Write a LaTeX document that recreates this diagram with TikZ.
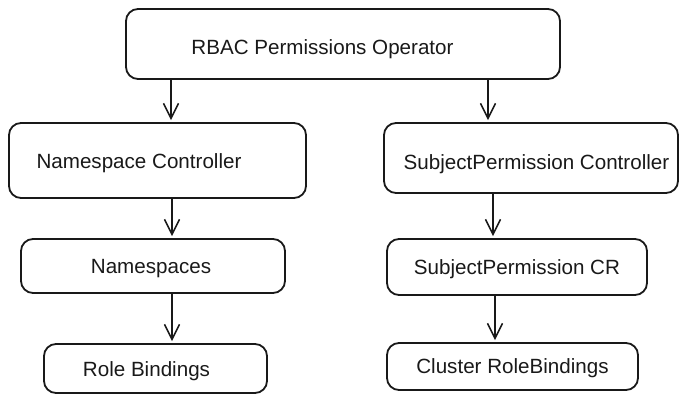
\documentclass[tikz,border=0pt]{standalone}
\usepackage{fontspec}
\setmainfont{Liberation Sans}
\usetikzlibrary{arrows.meta}
\begin{document}
\begin{tikzpicture}[x=1pt,y=-1pt,
  box/.style={draw=black!90, line width=1.8pt, rounded corners=12pt, inner sep=0pt},
  lbl/.style={font=\fontsize{20.6}{24}\selectfont, inner sep=0pt, text=black!90},
  arr/.style={draw=black!90, line width=1.6pt, -{Straight Barb[length=15pt,width=15pt,line width=1.6pt]}, shorten >=2pt}]
\useasboundingbox (0,0) rectangle (691,403);
% boxes
\node[box, minimum width=434pt, minimum height=70pt] (top) at (343,44) {};
\node[box, minimum width=297pt, minimum height=75pt] (nsc) at (157.5,160.5) {};
\node[box, minimum width=294pt, minimum height=70pt] (spc) at (531,158) {};
\node[box, minimum width=264pt, minimum height=54pt] (ns) at (153,266) {};
\node[box, minimum width=260pt, minimum height=56pt] (spcr) at (517,267) {};
\node[box, minimum width=223pt, minimum height=49pt] (rb) at (155.5,368.5) {};
\node[box, minimum width=251pt, minimum height=47pt] (crb) at (512.5,366.5) {};
% labels
\node[lbl] (ttop) at (322.5,49) {RBAC Permissions Operator};
\node[lbl] (tnsc) at (139,163) {Namespace Controller};
\node[lbl] (tspc) at (536.5,164) {SubjectPermission Controller};
\node[lbl] (tns) at (151,269) {Namespaces};
\node[lbl] (tspcr) at (517,269) {SubjectPermission CR};
\node[lbl] (trb) at (146.5,371) {Role Bindings};
\node[lbl] (tcrb) at (512.5,368) {Cluster RoleBindings};
% arrow columns
\coordinate (c1) at (171,0);
\coordinate (c2) at (488,0);
\coordinate (c3) at (172,0);
\coordinate (c4) at (493,0);
\coordinate (c5) at (172,0);
\coordinate (c6) at (495,0);
% connectors
\draw[arr] (top.south -| c1) -- (nsc.north -| c1);
\draw[arr] (top.south -| c2) -- (spc.north -| c2);
\draw[arr] (nsc.south -| c3) -- (ns.north -| c3);
\draw[arr] (spc.south -| c4) -- (spcr.north -| c4);
\draw[arr] (ns.south -| c5) -- (rb.north -| c5);
\draw[arr] (spcr.south -| c6) -- (crb.north -| c6);
\end{tikzpicture}
\end{document}
